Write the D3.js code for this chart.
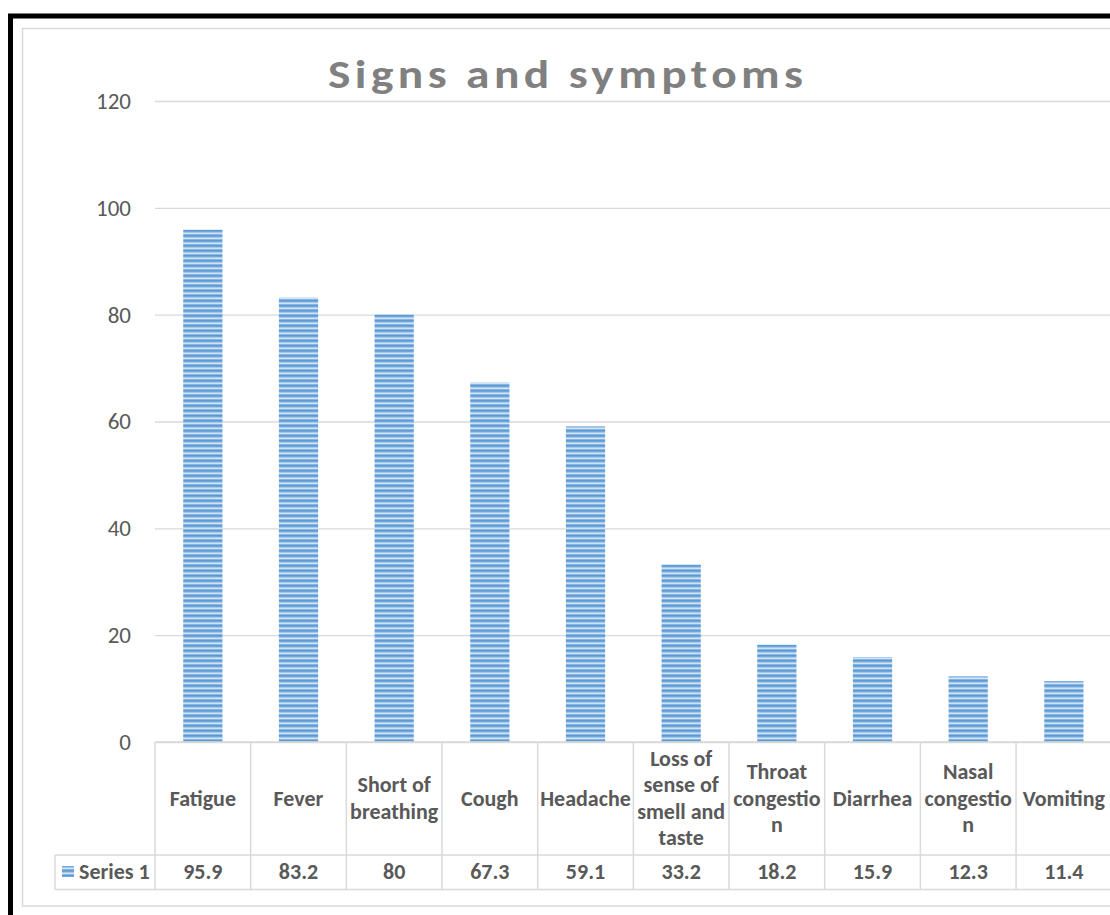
<!DOCTYPE html>
<html>
<head>
<meta charset="utf-8">
<script src="https://cdn.jsdelivr.net/npm/d3@7/dist/d3.min.js"></script>
<style>
  html, body { margin: 0; padding: 0; background: #fff; }
  svg { display: block; font-family: Carlito, Lato, "Noto Sans", sans-serif; }
</style>
</head>
<body>
<svg id="chart" width="1110" height="915"></svg>
<script>
// Symptom frequencies (%)
const categories = ["Fatigue", "Fever", "Short of breathing", "Cough", "Headache",
  "Loss of sense of smell and taste", "Throat congestion", "Diarrhea",
  "Nasal congestion", "Vomiting"];
const seriesName = "Series 1";
const values = [95.9, 83.2, 80, 67.3, 59.1, 33.2, 18.2, 15.9, 12.3, 11.4];
const yTicks = [0, 20, 40, 60, 80, 100, 120];
const title = "Signs and symptoms";

const svg = d3.select("#chart");
const W = 1110, H = 915;

const plot = { left: 155, right: 1111.7, top: 101, bottom: 742 };
const rowHeader = 855, rowBottom = 889.5;

const textGrey = "#595959";
const lineGrey = "#d9d9d9";
const tableFont = 22;

// bar fill: narrow horizontal stripes
const defs = svg.append("defs");
const pat = defs.append("pattern")
  .attr("id", "stripes")
  .attr("patternUnits", "userSpaceOnUse")
  .attr("width", 8).attr("height", 5);
const stripeColors = ["#5b9bd5", "#6ea7dc", "#a8c8ea", "#d2e3f4", "#8ab5e2"];
stripeColors.forEach((c, i) => {
  pat.append("rect").attr("x", 0).attr("y", i).attr("width", 8).attr("height", 1).attr("fill", c);
});

// frames
svg.append("rect").attr("width", W).attr("height", H).attr("fill", "#fff");
svg.append("rect")
  .attr("x", 22.5).attr("y", 28.5).attr("width", 1100).attr("height", 877.5)
  .attr("fill", "none").attr("stroke", lineGrey).attr("stroke-width", 1.5);
svg.append("path")
  .attr("d", `M10.5,${H + 5} V16 H${W + 5}`)
  .attr("fill", "none").attr("stroke", "#000").attr("stroke-width", 5);

// scales
const x = d3.scaleBand().domain(categories).range([plot.left, plot.right])
  .paddingInner(0.59).paddingOuter(0.295);
const xCell = d3.scaleBand().domain(categories).range([plot.left, plot.right]);
const y = d3.scaleLinear().domain([0, 120]).range([plot.bottom, plot.top]);

// gridlines
const grid = svg.append("g").attr("transform", `translate(${plot.left},0)`)
  .call(d3.axisLeft(y).tickValues(yTicks).tickSize(-(W - plot.left)).tickFormat(""));
grid.select(".domain").remove();
grid.selectAll(".tick line").attr("stroke", lineGrey).attr("stroke-width", 1.3);

// y axis labels
const yAxis = svg.append("g").attr("transform", `translate(${plot.left - 24},0)`)
  .call(d3.axisLeft(y).tickValues(yTicks).tickSize(0).tickPadding(0));
yAxis.select(".domain").remove();
yAxis.selectAll("text")
  .attr("fill", textGrey).attr("font-size", 23)
  .attr("font-family", "Carlito, Lato, sans-serif");

// bars
svg.append("g").selectAll("rect")
  .data(values)
  .join("rect")
  .attr("x", (d, i) => x(categories[i]))
  .attr("y", d => y(d))
  .attr("width", x.bandwidth())
  .attr("height", d => y(0) - y(d))
  .attr("fill", "url(#stripes)");

// title (wide bold lettering)
const titleScaleX = 1.2;
svg.append("g")
  .attr("transform", `translate(565.5,87.5) scale(${titleScaleX},1)`)
  .append("text")
  .attr("x", 0).attr("y", 0)
  .attr("text-anchor", "middle")
  .attr("font-size", 39.5).attr("font-weight", "bold")
  .attr("fill", "#808080")
  .attr("textLength", 475 / titleScaleX).attr("lengthAdjust", "spacing")
  .text(title);

// data table lines
const table = svg.append("g").attr("stroke", lineGrey).attr("stroke-width", 1.5).attr("fill", "none");
table.append("line").attr("x1", plot.left).attr("x2", W).attr("y1", plot.bottom).attr("y2", plot.bottom);
table.append("line").attr("x1", 55).attr("x2", W).attr("y1", rowHeader).attr("y2", rowHeader);
table.append("line").attr("x1", 55).attr("x2", W).attr("y1", rowBottom).attr("y2", rowBottom);
table.append("line").attr("x1", 55).attr("x2", 55).attr("y1", rowHeader).attr("y2", rowBottom);
const edges = categories.map(c => xCell(c)).concat([plot.right]);
table.selectAll("line.v").data(edges).join("line").attr("class", "v")
  .attr("x1", d => d).attr("x2", d => d)
  .attr("y1", plot.bottom).attr("y2", rowBottom);

// wrap a label into lines fitting maxW, breaking inside words when needed
const measurer = svg.append("text").attr("font-size", tableFont).attr("font-weight", "bold")
  .attr("visibility", "hidden");
function widthOf(s) { measurer.text(s); return measurer.node().getComputedTextLength(); }
function wrap(label, maxW) {
  const words = label.split(" ");
  const lines = [];
  let cur = "";
  words.forEach(w => {
    const test = cur ? cur + " " + w : w;
    if (widthOf(test) <= maxW) { cur = test; return; }
    if (cur) { lines.push(cur); cur = ""; }
    let piece = "";
    for (const ch of w) {
      if (widthOf(piece + ch) <= maxW) piece += ch;
      else { lines.push(piece); piece = ch; }
    }
    cur = piece;
  });
  if (cur) lines.push(cur);
  return lines;
}

const lineH = 26.5;
const headerMid = (plot.bottom + rowHeader) / 2;
categories.forEach(c => {
  const lines = wrap(c, xCell.bandwidth() - 4);
  const t = svg.append("text")
    .attr("text-anchor", "middle")
    .attr("font-size", tableFont).attr("font-weight", "bold").attr("fill", textGrey);
  const y0 = headerMid - (lines.length - 1) * lineH / 2 + 7;
  lines.forEach((l, i) => {
    t.append("tspan").attr("x", xCell(c) + xCell.bandwidth() / 2).attr("y", y0 + i * lineH).text(l);
  });
});
measurer.remove();

// values row
const rowMid = (rowHeader + rowBottom) / 2 + 7;
svg.append("g").selectAll("text").data(values).join("text")
  .attr("x", (d, i) => xCell(categories[i]) + xCell.bandwidth() / 2)
  .attr("y", rowMid)
  .attr("text-anchor", "middle")
  .attr("font-size", tableFont).attr("font-weight", "bold").attr("fill", textGrey)
  .text(d => d);

// legend key in the table
svg.append("rect").attr("x", 62).attr("y", 866).attr("width", 12).attr("height", 11)
  .attr("fill", "url(#stripes)");
svg.append("text").attr("x", 79).attr("y", rowMid)
  .attr("font-size", tableFont).attr("font-weight", "bold").attr("fill", textGrey)
  .text(seriesName);
</script>
</body>
</html>
